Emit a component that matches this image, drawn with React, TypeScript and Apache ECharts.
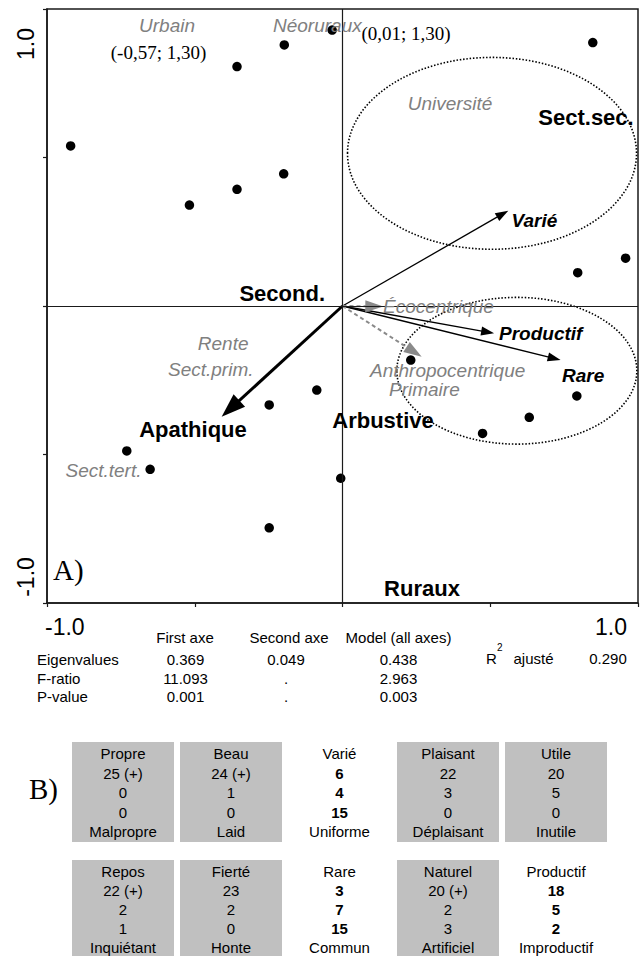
import React, { useEffect, useRef } from 'react';
import * as echarts from 'echarts';

// ---- Data ----
const siteX = [-0.920, -0.357, -0.197, -0.035, -0.518, -0.357, -0.199, 0.847, 0.958, 0.796, -0.087, -0.248, -0.730, -0.651, -0.248, -0.006, 0.231, 0.474, 0.632, 0.793];
const siteY = [0.539, 0.806, 0.879, 0.929, 0.340, 0.393, 0.445, 0.887, 0.161, 0.112, -0.283, -0.333, -0.488, -0.550, -0.747, -0.580, -0.182, -0.429, -0.375, -0.303];

const arrowNames = ['Varié', 'Productif', 'Rare', 'Apathique', 'Écocentrique', 'Anthropocentrique'];
const arrowX = [0.561, 0.513, 0.738, -0.409, 0.138, 0.268];
const arrowY = [0.321, -0.092, -0.182, -0.373, -0.002, -0.171];
const arrowKinds = ['thin', 'thin', 'thin', 'thick', 'dashed', 'dashed'];

const ellipseCX = [0.506, 0.590];
const ellipseCY = [0.514, -0.218];
const ellipseRX = [0.489, 0.406];
const ellipseRY = [0.323, 0.247];

const axisMin = -1;
const axisMax = 1;
const axisStep = 0.5;
const xTickLabels = ['-1.0', '1.0'];
const yTickLabels = ['1.0', '-1.0'];

const statHeaders = ['First axe', 'Second axe', 'Model (all axes)'];
const statRows = ['Eigenvalues', 'F-ratio', 'P-value'];
const firstAxe = ['0.369', '11.093', '0.001'];
const secondAxe = ['0.049', '.', '.'];
const modelAll = ['0.438', '2.963', '0.003'];
const r2Label = 'ajusté';
const r2Value = '0.290';

const bTop = ['Propre', 'Beau', 'Varié', 'Plaisant', 'Utile', 'Repos', 'Fierté', 'Rare', 'Naturel', 'Productif'];
const bPos = ['25 (+)', '24 (+)', '6', '22', '20', '22 (+)', '23', '3', '20 (+)', '18'];
const bMid = ['0', '1', '4', '3', '5', '2', '2', '7', '2', '5'];
const bNeg = ['0', '0', '15', '0', '0', '1', '0', '15', '3', '2'];
const bBottom = ['Malpropre', 'Laid', 'Uniforme', 'Déplaisant', 'Inutile', 'Inquiétant', 'Honte', 'Commun', 'Artificiel', 'Improductif'];
const bShaded = [true, true, false, true, true, true, true, false, true, false];

// ---- Styles ----
const SANS = '"Liberation Sans", Arial, Helvetica, sans-serif';
const SERIF = '"Liberation Serif", "Times New Roman", serif';
const GRAY = '#808080';

const arrowStyles: Record<string, any> = {
  thin: { color: '#000', width: 1.3, dash: null, head: 13, half: 4.5 },
  thick: { color: '#000', width: 3, dash: null, head: 24, half: 8.5 },
  dashed: { color: '#8a8a8a', width: 2, dash: [4, 3], head: 18, half: 6 },
};

function txt(text: string, x: number, y: number, o: any = {}) {
  const style: any = {
    text,
    fill: o.fill || '#000',
    fontFamily: o.family || SANS,
    fontSize: o.size || 15,
    fontWeight: o.weight || 'normal',
    fontStyle: o.style || 'normal',
    align: o.align || 'center',
    verticalAlign: 'middle',
    textAlign: o.align || 'center',
    textVerticalAlign: 'middle',
  };
  if (o.lineHeight) style.lineHeight = o.lineHeight;
  return {
    type: 'text',
    x,
    y,
    rotation: o.rotation || 0,
    z: 100,
    style,
  };
}

export default function App() {
  const ref = useRef<HTMLDivElement>(null);

  useEffect(() => {
    if (!ref.current) return;
    const chart = echarts.init(ref.current, null, { renderer: 'svg' });

    const gray = (t: string, x: number, y: number, align = 'center') =>
      txt(t, x, y, { fill: GRAY, size: 19, style: 'italic', align });
    const bold = (t: string, x: number, y: number, align = 'center') =>
      txt(t, x, y, { size: 22, weight: 'bold', align });
    const boldIt = (t: string, x: number, y: number) =>
      txt(t, x, y, { size: 19, weight: 'bold', style: 'italic', align: 'left' });

    const graphics: any[] = [
      // axis tick labels
      txt(yTickLabels[0], 26, 44, { size: 23, rotation: Math.PI / 2 }),
      txt(yTickLabels[1], 26, 577, { size: 23, rotation: Math.PI / 2 }),
      txt(xTickLabels[0], 45, 627, { size: 23, align: 'left' }),
      txt(xTickLabels[1], 627, 627, { size: 23, align: 'right' }),
      // annotations in plot
      gray('Urbain', 167, 25),
      gray('Néoruraux', 273, 25, 'left'),
      txt('(-0,57; 1,30)', 158.5, 52, { family: SERIF, size: 19 }),
      txt('(0,01; 1,30)', 361.5, 33, { family: SERIF, size: 19, align: 'left' }),
      gray('Université', 450, 103),
      bold('Sect.sec.', 586, 117),
      boldIt(arrowNames[0], 511.5, 220),
      bold('Second.', 325, 293, 'right'),
      gray(arrowNames[4], 383, 306, 'left'),
      boldIt(arrowNames[1], 499, 333),
      boldIt(arrowNames[2], 562, 375),
      gray(arrowNames[5], 370, 370, 'left'),
      gray('Primaire', 389, 389, 'left'),
      gray('Rente', 248.5, 343.5, 'right'),
      gray('Sect.prim.', 253.5, 369.5, 'right'),
      bold(arrowNames[3], 193, 429.5),
      bold('Arbustive', 383, 420),
      gray('Sect.tert.', 141.5, 470, 'right'),
      bold('Ruraux', 422, 588.5),
      txt('A)', 53, 570, { family: SERIF, size: 29, align: 'left' }),
      // stats table
      txt(statHeaders[0], 185, 637.5),
      txt(statHeaders[1], 289, 637.5),
      txt(statHeaders[2], 398.5, 637.5),
      txt('R', 486, 658.5, { align: 'left' }),
      txt('2', 497, 647, { size: 10, align: 'left' }),
      txt(r2Label, 513.5, 658.5, { align: 'left' }),
      txt(r2Value, 608, 658.5),
      txt('B)', 29, 788.5, { family: SERIF, size: 29, align: 'left' }),
    ];

    const rowY = [659, 678.3, 696.7];
    statRows.forEach((r, i) => {
      graphics.push(txt(r, 37, rowY[i], { align: 'left' }));
      graphics.push(txt(firstAxe[i], 185.5, rowY[i]));
      graphics.push(txt(secondAxe[i], 286, rowY[i]));
      graphics.push(txt(modelAll[i], 398.5, rowY[i]));
    });

    // B) boxes
    const colLeft = [72, 180, 288.5, 397, 505];
    const rowTop = [742, 860];
    const boxW = 102;
    const boxH = 100;
    bTop.forEach((t, k) => {
      const c = k % 5;
      const r = Math.floor(k / 5);
      const left = colLeft[c];
      const top = rowTop[r];
      const cx = left + boxW / 2;
      if (bShaded[k]) {
        graphics.push({ type: 'rect', z: 50, shape: { x: left, y: top, width: boxW, height: boxH }, style: { fill: '#c0c0c0' } });
      }
      const lines = [t, bPos[k], bMid[k], bNeg[k], bBottom[k]];
      const step = r === 0 ? 19.5 : 19.0;
      lines.forEach((ln, j) => {
        const isNum = j >= 1 && j <= 3 && !bShaded[k];
        graphics.push(txt(ln, cx, top + 11.5 + j * step, { weight: isNum ? 'bold' : 'normal', lineHeight: 15 }));
      });
    });

    const option: any = {
      animation: false,
      backgroundColor: '#fff',
      grid: {
        left: 47,
        top: 9,
        width: 591,
        height: 594,
        show: true,
        borderColor: '#1a1a1a',
        borderWidth: 1.5,
        backgroundColor: 'transparent',
      },
      xAxis: {
        type: 'value',
        min: axisMin,
        max: axisMax,
        interval: axisStep,
        splitLine: { show: false },
        axisLine: { show: true, onZero: false, lineStyle: { color: '#1a1a1a', width: 1.5 } },
        axisTick: { show: true, length: 4, lineStyle: { color: '#1a1a1a', width: 1.2 } },
        axisLabel: { show: false },
      },
      yAxis: {
        type: 'value',
        min: axisMin,
        max: axisMax,
        interval: axisStep,
        splitLine: { show: false },
        axisLine: { show: true, onZero: false, lineStyle: { color: '#1a1a1a', width: 1.5 } },
        axisTick: { show: true, length: 4, lineStyle: { color: '#1a1a1a', width: 1.2 } },
        axisLabel: { show: false },
      },
      graphic: graphics,
      series: [
        {
          type: 'custom',
          name: 'ellipses',
          coordinateSystem: 'cartesian2d',
          z: 2,
          silent: true,
          encode: { x: 0, y: 1 },
          data: ellipseCX.map((cx, i) => [cx, ellipseCY[i], ellipseRX[i], ellipseRY[i]]),
          renderItem: (params: any, api: any) => {
            const c = api.coord([api.value(0), api.value(1)]);
            const s = api.size([api.value(2), api.value(3)]);
            return {
              type: 'ellipse',
              shape: { cx: c[0], cy: c[1], rx: s[0], ry: s[1] },
              style: { fill: 'none', stroke: '#000', lineWidth: 1.6, lineDash: [1.5, 1.8] },
            };
          },
        },
        {
          type: 'scatter',
          name: 'sites',
          z: 3,
          symbol: 'circle',
          symbolSize: 9.5,
          itemStyle: { color: '#000', opacity: 1 },
          data: siteX.map((x, i) => [x, siteY[i]]),
          markLine: {
            silent: true,
            symbol: ['none', 'none'],
            label: { show: false },
            lineStyle: { color: '#1a1a1a', width: 1.2, type: 'solid', opacity: 1 },
            data: [{ xAxis: 0 }, { yAxis: 0 }],
          },
        },
        {
          type: 'custom',
          name: 'arrows',
          coordinateSystem: 'cartesian2d',
          z: 4,
          silent: true,
          encode: { x: 0, y: 1 },
          data: arrowX.map((x, i) => [x, arrowY[i]]),
          renderItem: (params: any, api: any) => {
            const i = params.dataIndex;
            const st = arrowStyles[arrowKinds[i]];
            const o = api.coord([0, 0]);
            const t = api.coord([api.value(0), api.value(1)]);
            const dx = t[0] - o[0];
            const dy = t[1] - o[1];
            const L = Math.hypot(dx, dy) || 1;
            const ux = dx / L;
            const uy = dy / L;
            const bx = t[0] - ux * st.head;
            const by = t[1] - uy * st.head;
            const px = -uy;
            const py = ux;
            const lineStyle: any = { stroke: st.color, lineWidth: st.width };
            if (st.dash) lineStyle.lineDash = st.dash;
            return {
              type: 'group',
              children: [
                { type: 'line', shape: { x1: o[0], y1: o[1], x2: bx + ux * 2, y2: by + uy * 2 }, style: lineStyle },
                {
                  type: 'polygon',
                  shape: { points: [[t[0], t[1]], [bx + px * st.half, by + py * st.half], [bx - px * st.half, by - py * st.half]] },
                  style: { fill: st.color },
                },
              ],
            };
          },
        },
      ],
    };

    chart.setOption(option);
    return () => chart.dispose();
  }, []);

  return (
    <div
      ref={ref}
      style={{ position: 'absolute', left: 0, top: 0, width: 644, height: 956, background: '#fff' }}
    />
  );
}
